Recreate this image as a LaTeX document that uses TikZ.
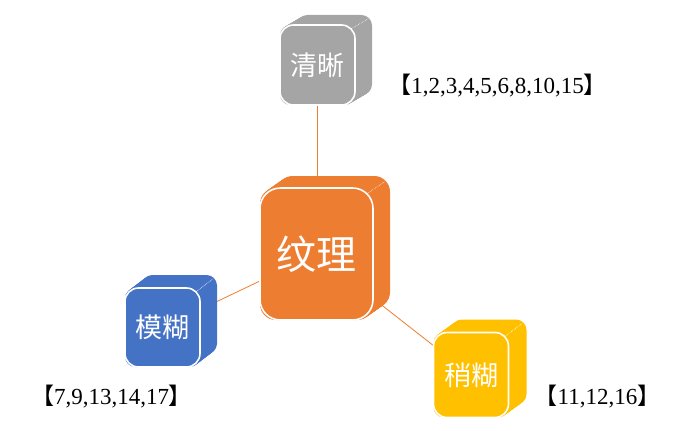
\documentclass[tikz,border=0pt]{standalone}
\usepackage{fontspec}
\setmainfont{Liberation Serif}
\newfontfamily\cjk{Noto Sans CJK SC}
\usepackage{tikz}
\pgfdeclarelayer{background}
\pgfsetlayers{background,main}
\definecolor{texorange}{HTML}{ED7D31}
\definecolor{cleargray}{HTML}{A5A5A5}
\definecolor{blurblue}{HTML}{4472C4}
\definecolor{slightyellow}{HTML}{FFC000}
\newcommand{\bigcjk}{\cjk\fontsize{40}{40}\selectfont}
\newcommand{\smallcjk}{\cjk\fontsize{27}{27}\selectfont}
\newcommand{\numsize}{\fontsize{23}{23}\selectfont}
% name, colour, x, y, width, height, depth x, depth y, text
\newcommand{\cubeblock}[9]{%
  \foreach \t in {0,0.05,...,1.01}
    \fill[#2, rounded corners={0.14*#5pt}] ({#3-#5/2+\t*#7},{#4-#6/2-\t*#8}) rectangle ++(#5,#6);
  \draw[white, line width=.6pt, densely dotted] ({#3+#5/2-0.05*#5},{#4-#6/2+0.05*#5}) -- ++(#7,-#8);
  \node (#1) at (#3,#4) [face, fill=#2, minimum width=#5pt, minimum height=#6pt, rounded corners={0.18*#5pt}] {#9};
}

\begin{document}
\begin{tikzpicture}[x=1pt, y=-1pt,
    face/.style={draw=white, line width=1.6pt, text=white, inner sep=0pt},
    link/.style={texorange, line width=.8pt},
    nums/.style={font=\numsize, inner sep=0pt}]
        \useasboundingbox (0,0) rectangle (675,431);

        \cubeblock{texture}{texorange}{316.5}{254}{113}{132}{17}{12}{\bigcjk 纹理}
        \cubeblock{clear}{cleargray}{317.5}{65}{75}{80}{17}{10}{\smallcjk 清晰}
        \cubeblock{blurry}{blurblue}{162.5}{327.5}{75}{79}{17}{13}{\smallcjk 模糊}
        \cubeblock{slightly}{slightyellow}{471}{375}{75}{85}{18}{13}{\smallcjk 稍糊}

        \node (clearnums) at (497.5,86) [nums] {{\cjk 【}1,2,3,4,5,6,8,10,15{\cjk 】}};
        \node (blurrynums) at (111.5,397) [nums] {{\cjk 【}7,9,13,14,17{\cjk 】}};
        \node (slightlynums) at (597.5,397) [nums] {{\cjk 【}11,12,16{\cjk 】}};

        % links run centre to centre, behind the cubes
        \begin{pgfonlayer}{background}
        \draw[link] (clear.center) -- (clear.center |- texture.center)
          (blurry.center) -- (texture.center) -- (slightly.center);
        \end{pgfonlayer}
\end{tikzpicture}
\end{document}
